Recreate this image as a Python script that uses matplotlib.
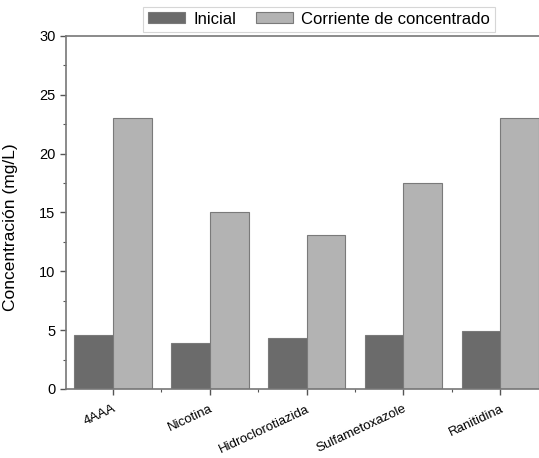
import matplotlib
matplotlib.use("Agg")
import matplotlib.pyplot as plt
import numpy as np
from matplotlib.ticker import MultipleLocator

plt.rcParams['font.family'] = ['Liberation Sans', 'DejaVu Sans']

compuestos = ["4AAA", "Nicotina", "Hidroclorotiazida", "Sulfametoxazole", "Ranitidina"]
inicial = [4.6, 3.9, 4.3, 4.6, 4.9]
corriente = [23.0, 15.0, 13.1, 17.5, 23.0]
series_labels = ["Inicial", "Corriente de concentrado"]
yticks = [0, 5, 10, 15, 20, 25, 30]

fig = plt.figure(figsize=(5.39, 4.58), dpi=100)
ax = fig.add_axes([0.1225, 0.1507, 0.8775, 0.7707])

x = np.arange(len(compuestos))
w = 0.4
edge = "#7a7a7a"
b1 = ax.bar(x - w / 2, inicial, w, color="#6b6b6b", edgecolor=edge, linewidth=0.8, label=series_labels[0])
b2 = ax.bar(x + w / 2, corriente, w, color="#b3b3b3", edgecolor=edge, linewidth=0.8, label=series_labels[1])

ax.set_xlim(-0.485, 4.4)
ax.set_ylim(0, 30)
ax.set_yticks(yticks)
ax.yaxis.set_minor_locator(MultipleLocator(2.5))
ax.set_xticks(x)
ax.set_xticks(x[:-1] + 0.5, minor=True)
ax.set_xticklabels(compuestos, rotation=25, ha="right", rotation_mode="anchor", fontsize=9.5)
ax.tick_params(axis="y", labelsize=10.5)
ax.tick_params(which="major", direction="out", length=4, width=1, color="#555555")
ax.tick_params(axis="x", which="major", pad=6)
ax.tick_params(which="minor", direction="out", length=2, width=0.8, color="#555555")
ax.set_ylabel("Concentración (mg/L)", fontsize=12.5)
ax.yaxis.set_label_coords(-0.101, 0.459)

for side in ["left", "bottom", "top"]:
    ax.spines[side].set_color("#777777")
    ax.spines[side].set_linewidth(1.2)
ax.spines["right"].set_visible(False)

leg = ax.legend(handles=[b1, b2], loc="lower center", bbox_to_anchor=(0.535, 1.012),
                ncol=2, frameon=True, fancybox=False, fontsize=12,
                handlelength=2.2, handleheight=0.65, columnspacing=1.2,
                handletextpad=0.5, borderpad=0.3, borderaxespad=0.0)
leg.get_frame().set_edgecolor("#cccccc")
leg.get_frame().set_linewidth(0.8)

fig.savefig("out.png", dpi=100)
